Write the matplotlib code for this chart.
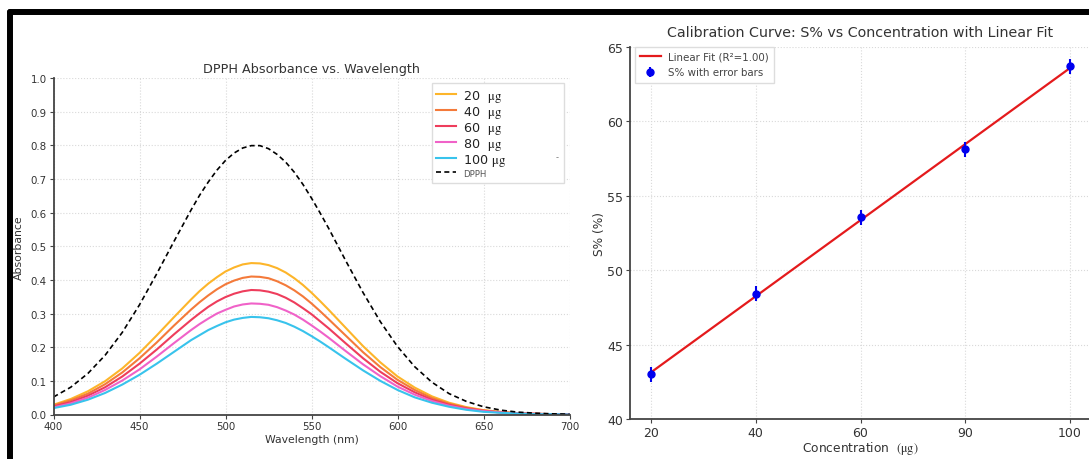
import numpy as np
import matplotlib
matplotlib.use("Agg")
import matplotlib.pyplot as plt

plt.rcParams['font.family'] = ['DejaVu Sans']
plt.rcParams['mathtext.fontset'] = 'stix'

# ---- left panel data: absorbance spectra
wavelength = [400, 410, 420, 430, 440, 450, 460, 470, 480, 485, 490, 495, 500, 505,
              510, 515, 520, 525, 530, 535, 540, 545, 550, 555, 560, 570, 580, 590, 600,
              610, 620, 630, 640, 650, 660, 670, 680, 690, 700]
abs_20 = [0.029, 0.046, 0.069, 0.099, 0.137, 0.183, 0.235, 0.289, 0.342, 0.367, 0.389, 0.408,
          0.425, 0.437, 0.446, 0.450, 0.449, 0.444, 0.435, 0.422, 0.405, 0.385, 0.362, 0.337,
          0.311, 0.257, 0.203, 0.155, 0.113, 0.080, 0.054, 0.035, 0.022, 0.013, 0.008,
          0.004, 0.002, 0.001, 0.001]
abs_40 = [0.027, 0.042, 0.062, 0.090, 0.125, 0.167, 0.214, 0.264, 0.312, 0.334, 0.354, 0.372,
          0.387, 0.398, 0.406, 0.410, 0.409, 0.405, 0.396, 0.384, 0.369, 0.351, 0.330, 0.307,
          0.283, 0.234, 0.185, 0.141, 0.103, 0.073, 0.049, 0.032, 0.020, 0.012, 0.007,
          0.004, 0.002, 0.001, 0.001]
abs_60 = [0.024, 0.037, 0.056, 0.081, 0.113, 0.151, 0.193, 0.238, 0.281, 0.301, 0.320, 0.336,
          0.349, 0.359, 0.366, 0.370, 0.369, 0.365, 0.358, 0.347, 0.333, 0.316, 0.298, 0.277,
          0.256, 0.211, 0.167, 0.127, 0.093, 0.066, 0.044, 0.029, 0.018, 0.011, 0.006,
          0.003, 0.002, 0.001, 0.000]
abs_80 = [0.021, 0.033, 0.050, 0.073, 0.101, 0.134, 0.172, 0.212, 0.251, 0.269, 0.285, 0.300,
          0.311, 0.321, 0.327, 0.330, 0.329, 0.326, 0.319, 0.309, 0.297, 0.282, 0.265, 0.247,
          0.228, 0.188, 0.149, 0.114, 0.083, 0.059, 0.040, 0.026, 0.016, 0.010, 0.006,
          0.003, 0.002, 0.001, 0.000]
abs_100 = [0.019, 0.029, 0.044, 0.064, 0.089, 0.118, 0.151, 0.186, 0.221, 0.236, 0.251, 0.263,
           0.274, 0.282, 0.287, 0.290, 0.289, 0.286, 0.280, 0.272, 0.261, 0.248, 0.233, 0.217,
           0.200, 0.165, 0.131, 0.100, 0.073, 0.051, 0.035, 0.023, 0.014, 0.008, 0.005,
           0.003, 0.001, 0.001, 0.000]
abs_dpph = [0.052, 0.081, 0.122, 0.176, 0.244, 0.326, 0.418, 0.514, 0.608, 0.652, 0.691, 0.726,
            0.755, 0.777, 0.792, 0.799, 0.799, 0.790, 0.773, 0.750, 0.720, 0.684, 0.643, 0.599,
            0.553, 0.456, 0.362, 0.276, 0.202, 0.142, 0.096, 0.062, 0.039, 0.023, 0.013,
            0.007, 0.004, 0.002, 0.001]
spectra = [abs_20, abs_40, abs_60, abs_80, abs_100]
spectra_labels = ["20  $\\mathrm{μg}$", "40  $\\mathrm{μg}$", "60  $\\mathrm{μg}$",
                  "80  $\\mathrm{μg}$", "100 $\\mathrm{μg}$"]
spectra_colors = ['#FDB52A', '#F47A3A', '#EE3D5C', '#F062C8', '#38C3EC']

# ---- right panel data: calibration curve
conc = [20, 40, 60, 80, 100]
conc_ticklabels = ['20', '40', '60', '90', '100']
s_pct = [43.0, 48.4, 53.55, 58.1, 63.7]
s_err = [0.5, 0.5, 0.5, 0.5, 0.5]

spine_col = '#444444'
text_col = '#333333'
grid_kw = dict(color='#d9d9d9', linestyle=':', linewidth=0.8)

fig = plt.figure(figsize=(10.89, 4.60), dpi=100)

# black frame pieces (part of the composite picture)
fig.add_artist(plt.Line2D([9.5 / 1089, 9.5 / 1089], [0, 447 / 460], color='black', lw=4.3,
                          solid_capstyle='round'))
fig.add_artist(plt.Line2D([9.5 / 1089, 1.0], [447 / 460, 447 / 460], color='black', lw=4.3,
                          solid_capstyle='round'))

# ---------------- left: spectra ----------------
ax1 = fig.add_axes([53.5 / 1089, 44.5 / 460, 516 / 1089, 336.5 / 460])
for y, lab, col in zip(spectra, spectra_labels, spectra_colors):
    ax1.plot(wavelength, y, color=col, lw=1.5, label=lab)
ax1.plot(wavelength, abs_dpph, color='black', lw=1.2, ls=(0, (3, 2)), label='DPPH')
ax1.set_xlim(400, 700)
ax1.set_ylim(0, 1.0)
ax1.set_xticks(np.arange(400, 701, 50))
ax1.set_yticks(np.arange(0, 1.01, 0.1))
ax1.yaxis.set_major_formatter(matplotlib.ticker.FormatStrFormatter('%.1f'))
ax1.grid(True, **grid_kw)
ax1.set_axisbelow(True)
for s in ['top', 'right']:
    ax1.spines[s].set_visible(False)
for s in ['left', 'bottom']:
    ax1.spines[s].set_color(spine_col)
    ax1.spines[s].set_linewidth(1.3)
ax1.tick_params(labelsize=7.4, colors=spine_col, labelcolor=text_col, length=3, pad=2)
ax1.set_title('DPPH Absorbance vs. Wavelength', fontsize=9.2, color=text_col, pad=4)
ax1.set_xlabel('Wavelength (nm)', fontsize=7.8, color=text_col, labelpad=2)
ax1.set_ylabel('Absorbance', fontsize=7.8, color=text_col, labelpad=4.5)
leg1 = ax1.legend(loc='upper left', bbox_to_anchor=(0.7335, 0.70, 0.2555, 0.285),
                  mode='expand', borderaxespad=0, fontsize=9.2,
                  handlelength=1.5, labelspacing=0.0, borderpad=0.35,
                  handletextpad=0.6, framealpha=1, edgecolor='#dddddd', fancybox=False)
for t in leg1.get_texts():
    t.set_color('#222222')
leg1.get_texts()[-1].set_fontsize(6.2)
leg1.get_texts()[-1].set_color('#555555')
ax1.text(0.976, 0.765, '-', transform=ax1.transAxes, fontsize=6, color='#777777',
         ha='center', va='center', zorder=10)

# ---------------- right: calibration ----------------
ax2 = fig.add_axes([630 / 1089, 40 / 460, 461 / 1089, 372.3 / 460])
slope, intercept = np.polyfit(conc, s_pct, 1)
fit = slope * np.array(conc) + intercept
r2 = 1 - np.sum((np.array(s_pct) - fit) ** 2) / np.sum((np.array(s_pct) - np.mean(s_pct)) ** 2)
ax2.plot(conc, fit, color='#E41A1C', lw=1.6, label='Linear Fit (R²=%.2f)' % r2)
ax2.errorbar(conc, s_pct, yerr=s_err, fmt='o', color='#0000EE', ecolor='#0000EE',
             markersize=5, elinewidth=1.5, capsize=0, label='S% with error bars')
ax2.set_xlim(16, 104)
ax2.set_ylim(40, 65)
ax2.set_xticks(conc)
ax2.set_xticklabels(conc_ticklabels)
ax2.set_yticks([40, 45, 50, 55, 60, 65])
ax2.grid(True, **grid_kw)
ax2.set_axisbelow(True)
for s in ['top', 'right']:
    ax2.spines[s].set_visible(False)
for s in ['left', 'bottom']:
    ax2.spines[s].set_color(spine_col)
    ax2.spines[s].set_linewidth(1.3)
ax2.tick_params(labelsize=9, colors=spine_col, labelcolor=text_col, length=3, pad=2)
ax2.set_title('Calibration Curve: S% vs Concentration with Linear Fit', fontsize=10.3,
              color=text_col, pad=8)
ax2.set_xlabel('Concentration  $\\mathrm{(μg)}$', fontsize=8.8, color=text_col, labelpad=0)
ax2.set_ylabel('S% (%)', fontsize=8.8, color=text_col, labelpad=1)
leg2 = ax2.legend(loc='upper left', bbox_to_anchor=(0.011, 1.0), borderaxespad=0,
                  fontsize=7.4, handlelength=2.0, handletextpad=0.75, borderpad=0.5,
                  labelspacing=0.55, framealpha=1, edgecolor='#dddddd', fancybox=False)
for t in leg2.get_texts():
    t.set_color('#444444')

fig.savefig('out.png', dpi=100)
